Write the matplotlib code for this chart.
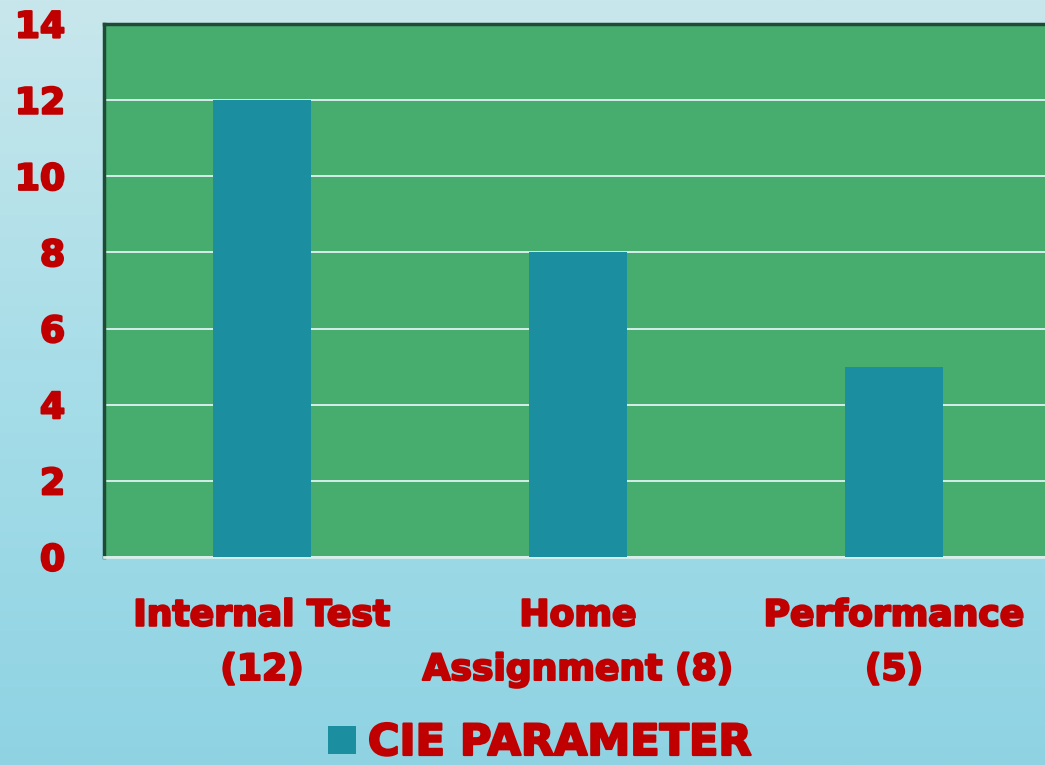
import matplotlib
matplotlib.use('Agg')
import matplotlib.pyplot as plt
import matplotlib.patheffects as pe
import numpy as np
from matplotlib.colors import LinearSegmentedColormap

# Data
categories = ['Internal Test\n(12)', 'Home\nAssignment (8)', 'Performance\n(5)']
values = [12, 8, 5]
series_name = 'CIE PARAMETER'
y_ticks = [0, 2, 4, 6, 8, 10, 12, 14]

# Colours
PLOT_GREEN = '#47AD6F'
BAR_TEAL = '#1B8FA0'
LABEL_RED = '#C00000'
SPINE_DARK = '#1F4A36'

plt.rcParams['font.family'] = ['DejaVu Sans']

# fake a heavier weight with an outline in the same colour
heavy = [pe.withStroke(linewidth=1.6, foreground=LABEL_RED)]

fig = plt.figure(figsize=(10.45, 7.65), dpi=100)

# Gradient backdrop across whole figure
bg = fig.add_axes([0, 0, 1, 1], zorder=-10)
grad = np.linspace(0, 1, 256).reshape(-1, 1)
cmap = LinearSegmentedColormap.from_list('bg', ['#C8E7EC', '#A6DDE8', '#8FD3E3'])
bg.imshow(grad, aspect='auto', cmap=cmap, extent=[0, 1, 0, 1], origin='upper')
bg.set_axis_off()

ax = fig.add_axes([104 / 1045, 208 / 765, 948 / 1045, 533 / 765])
ax.set_facecolor(PLOT_GREEN)

x = np.arange(len(categories))
ax.bar(x, values, width=0.31, color=BAR_TEAL, zorder=3, label=series_name)

ax.set_xlim(-0.5, len(categories) - 0.5)
ax.set_ylim(0, 14)
ax.set_yticks(y_ticks)
ax.set_xticks(x)
ax.set_xticklabels(categories, linespacing=1.75)

ax.grid(axis='y', color='#D5EEEA', linewidth=1.4, zorder=1)
ax.set_axisbelow(True)

ax.tick_params(axis='both', length=0, colors=LABEL_RED)
ax.tick_params(axis='y', pad=28, labelsize=26)
ax.tick_params(axis='x', pad=30, labelsize=26)
for lbl in ax.get_xticklabels() + ax.get_yticklabels():
    lbl.set_fontweight('bold')
    lbl.set_color(LABEL_RED)
    lbl.set_path_effects(heavy)

ax.spines['left'].set_color(SPINE_DARK)
ax.spines['left'].set_linewidth(2.5)
ax.spines['top'].set_color(SPINE_DARK)
ax.spines['top'].set_linewidth(2.5)
ax.spines['right'].set_visible(False)
ax.spines['bottom'].set_color('#D8EEEA')
ax.spines['bottom'].set_linewidth(2)

leg = fig.legend(loc='center', bbox_to_anchor=(540 / 1045, 1 - 743 / 765),
                 frameon=False, handlelength=0.64, handleheight=0.64,
                 handletextpad=0.28, prop={'size': 31, 'weight': 'bold'})
for t in leg.get_texts():
    t.set_color(LABEL_RED)
    t.set_path_effects(heavy)

fig.savefig('out.png', dpi=100)
